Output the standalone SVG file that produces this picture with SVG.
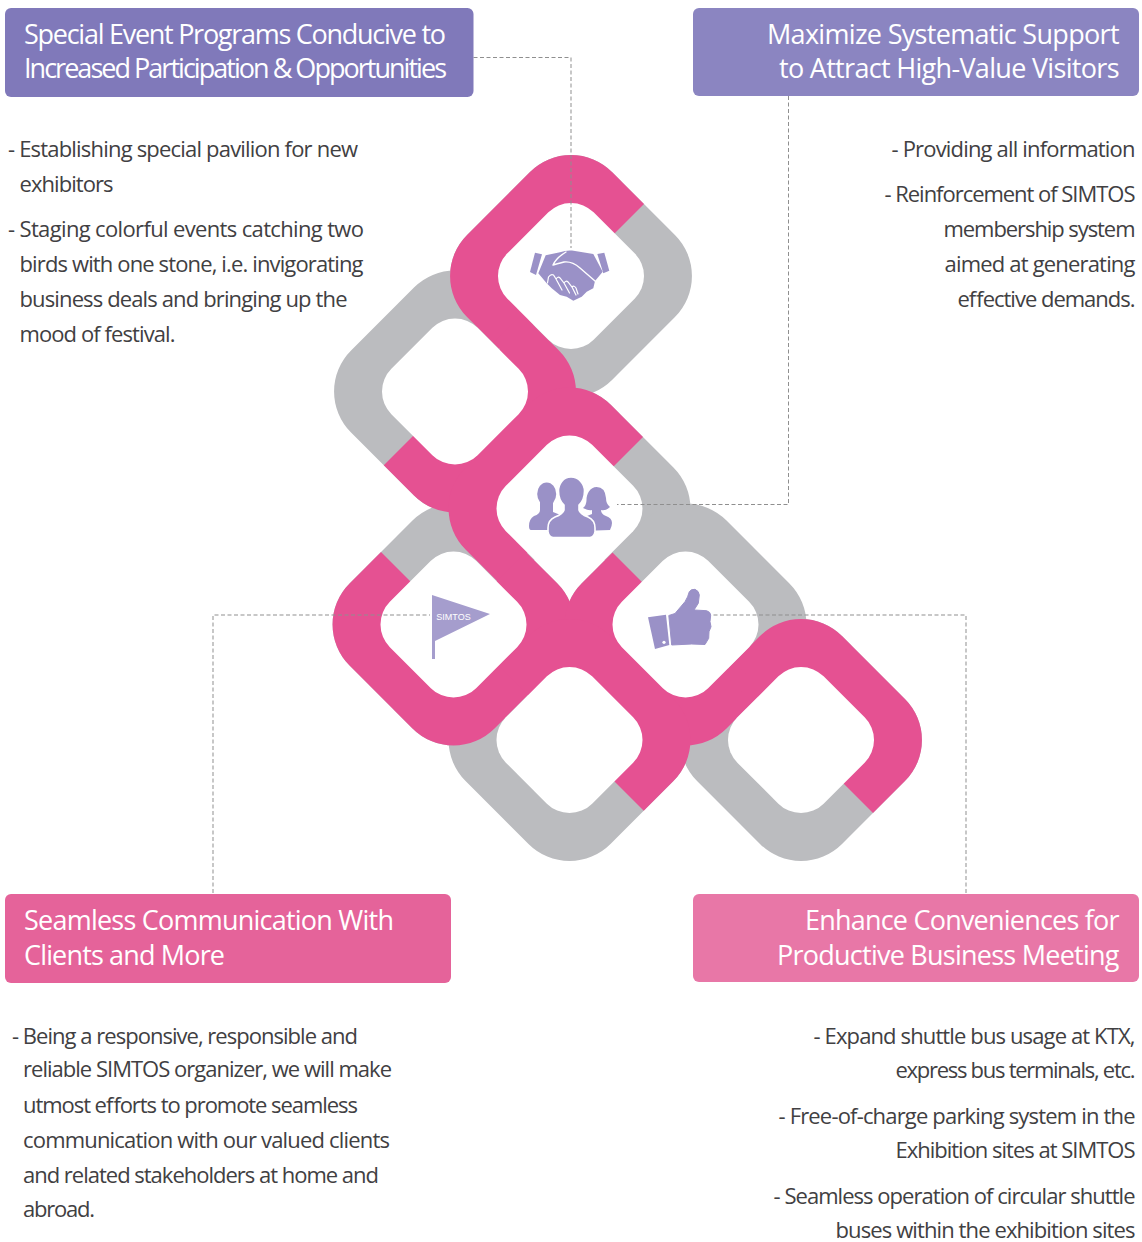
<svg xmlns="http://www.w3.org/2000/svg" xmlns:xlink="http://www.w3.org/1999/xlink" width="1142" height="1242" viewBox="0 0 1142 1242">
<style>
.h{font-family:"Open Sans","Noto Sans","Liberation Sans",sans-serif;font-size:27px;font-weight:400;fill:#fff}
.b{font-family:"Open Sans","Noto Sans","Liberation Sans",sans-serif;font-size:22px;fill:#414042}
.g{fill:#bbbcbf}.p{fill:#e55192}.w{fill:#fff}
.i{fill:#9a91c7}
.d{fill:none;stroke:#8f8f8f;stroke-width:1;stroke-dasharray:4 2.5}
</style>
<defs>
<rect id="o" x="-102.5" y="-102.5" width="205" height="205" rx="58" transform="rotate(45)"/>
<rect id="n" x="-61" y="-61" width="122" height="122" rx="32" transform="rotate(45)"/>
<clipPath id="cTop"><polygon points="0,848 848,0 0,0"/></clipPath>
<clipPath id="cLeft"><polygon points="849,0 1142,0 1142,1242 0,1242 0,849"/></clipPath>
<clipPath id="cCenter"><polygon points="0,1080 1080,0 0,0"/></clipPath>
<clipPath id="cCenterGrey"><rect x="0" y="0" width="1142" height="560"/></clipPath>
<clipPath id="cFlag"><polygon points="0,171 1071,1242 0,1242"/><polygon points="1078,0 1142,0 1142,1242 0,1242 0,1078"/></clipPath>
<clipPath id="cBottom"><polygon points="0,0 1142,0 1142,1242 1075,1242 0,167"/></clipPath>
<clipPath id="cThumb"><polygon points="60,0 0,0 0,1242 1142,1242 1142,1082"/></clipPath>
<clipPath id="cRight"><polygon points="60,0 1142,0 1142,1082"/></clipPath>
</defs>

<g id="rings-grey" class="g">
<use xlink:href="#o" href="#o" x="571" y="276"/>
<use xlink:href="#o" href="#o" x="455" y="391.5"/>
<g clip-path="url(#cCenterGrey)"><use xlink:href="#o" href="#o" x="569.5" y="508.5"/></g>
<use xlink:href="#o" href="#o" x="453.5" y="624.5"/>
<use xlink:href="#o" href="#o" x="685.5" y="624.5"/>
<use xlink:href="#o" href="#o" x="569.5" y="740"/>
<use xlink:href="#o" href="#o" x="801" y="740"/>
</g>
<g id="rings-pink" class="p">
<g clip-path="url(#cTop)"><use xlink:href="#o" href="#o" x="571" y="276"/></g>
<g clip-path="url(#cLeft)"><use xlink:href="#o" href="#o" x="455" y="391.5"/></g>
<g clip-path="url(#cCenter)"><use xlink:href="#o" href="#o" x="569.5" y="508.5"/></g>
<g clip-path="url(#cFlag)"><use xlink:href="#o" href="#o" x="453.5" y="624.5"/></g>
<g clip-path="url(#cThumb)"><use xlink:href="#o" href="#o" x="685.5" y="624.5"/></g>
<g clip-path="url(#cBottom)"><use xlink:href="#o" href="#o" x="569.5" y="740"/></g>
<g clip-path="url(#cRight)"><use xlink:href="#o" href="#o" x="801" y="740"/></g>
<path d="M508 328L519 339M738 688L749 677" fill="none" stroke="#e55192" stroke-width="41"/>
</g>
<g id="rings-inner" class="w">
<use xlink:href="#n" href="#n" x="571" y="276"/>
<use xlink:href="#n" href="#n" x="455" y="391.5"/>
<use xlink:href="#n" href="#n" x="569.5" y="508.5"/>
<use xlink:href="#n" href="#n" x="453.5" y="624.5"/>
<use xlink:href="#n" href="#n" x="685.5" y="624.5"/>
<use xlink:href="#n" href="#n" x="569.5" y="740"/>
<use xlink:href="#n" href="#n" x="801" y="740"/>
</g>

<g id="connectors">
<path class="d" d="M473.5 57.5H571V248"/>
<path class="d" d="M788.5 96V504.5H617"/>
<path class="d" d="M213 893V615H430"/>
<path class="d" d="M966 893V615H712"/>
</g>

<g id="icon-handshake">
<polygon class="i" points="535,252.7 542,254.3 536,275 530,272"/>
<polygon class="i" points="597.3,254 604.3,252.7 609.3,270.7 603.3,273.3"/>
<path class="i" d="M545.7 255.3L560 252.3Q566 250 572 250.5L593.3 254L602.7 271.7L595 281L593.3 288.3L586.7 291.7L581.7 296.7L573.3 300.7L566.7 296.7L560 295L551.7 288.3L546.7 283.3L538.3 273.3Z"/>
<path fill="none" stroke="#fff" stroke-width="1.4" stroke-linecap="round" stroke-linejoin="round" d="M595 281L580 268Q572 261 564 262Q556 264 553 265Q556 258 566 252"/>
<path fill="none" stroke="#fff" stroke-width="1.2" stroke-linecap="round" d="M547.5 283L548.5 277Q551 273.5 553.5 275L556 279Q558 276 560 278L564 283Q566 280 568 282L572 287Q574 285 576 288L578 294M556 279L562 290M564 283L569.5 293M572 287L576 295"/>
</g>

<g id="icon-people">
<ellipse class="i" cx="546.7" cy="494" rx="9.5" ry="11.5"/>
<path class="i" d="M540 501L540 510Q540 514 534 516Q529 519 529 526Q529 530 531 530L563 530L563 516L553 512Q553 508 553 501Z"/>
<path class="i" d="M596.7 487C590 487 586.5 494 586.5 500Q586.5 505 583 508Q589 511 592 510L592 514L582 518L582 531L610 530Q612 526 612 523Q612 518 606 516Q601 514 601 510Q606 511 610 507Q606 504 606 498Q605 487 596.7 487Z"/>
<path class="i" stroke="#fff" stroke-width="1.6" d="M571 477C563 477 558.5 484 558.5 491Q558.5 500 564 505L564 510Q563 514 555 517Q548 520 548 528L548 532Q549 537 553 537.5L590 537.5Q594 537 595 532L595 528Q595 520 588 517Q580 514 579 510L579 505Q584.5 500 584.5 491C584.5 484 579 477 571 477Z"/>
</g>

<g id="icon-flag">
<path fill="#a59dcd" d="M432 595L490 614L435 641V659H432Z"/>
<text x="453.5" y="620" text-anchor="middle" font-family="'Liberation Sans',Arial,sans-serif" font-size="9" fill="#fff">SIMTOS</text>
</g>

<g id="icon-thumb">
<polygon class="i" points="648,617.3 666,614.7 669.3,645 655,649"/>
<circle cx="664" cy="642.3" r="1.6" fill="#fff"/>
<path class="i" stroke="#9a91c7" stroke-width="1" stroke-linejoin="round" d="M668.8 615.5L675 613.5L685 601.7Q688 597 689.3 591.7Q691 589 695 589.3Q699 591 699.3 595L698.3 603.3L694 610L706.7 610.7Q710.5 612 710.7 615L710 621.7L711 626.7L709 631.7L708.7 638.3L705 644.5L691.7 644L671.7 645Z"/>
</g>

<g id="node-events">
<rect x="5" y="8" width="468.5" height="89" rx="6" fill="#8079ba"/>
<text class="h" x="24" y="44" textLength="422">Special Event Programs Conducive to</text>
<text class="h" x="24" y="78" textLength="423">Increased Participation &amp; Opportunities</text>
<text class="b" x="8" y="157" textLength="350">- Establishing special pavilion for new</text>
<text class="b" x="19.5" y="192" textLength="94">exhibitors</text>
<text class="b" x="8" y="237" textLength="356">- Staging colorful events catching two</text>
<text class="b" x="19.5" y="272" textLength="344">birds with one stone, i.e. invigorating</text>
<text class="b" x="19.5" y="307" textLength="328">business deals and bringing up the</text>
<text class="b" x="19.5" y="342" textLength="156">mood of festival.</text>
</g>

<g id="node-support">
<rect x="693" y="8" width="446" height="88" rx="6" fill="#8b85c1"/>
<text class="h" x="767" y="44" textLength="352.5">Maximize Systematic Support</text>
<text class="h" x="779" y="78" textLength="340.5">to Attract High-Value Visitors</text>
<text class="b" x="891.5" y="157" textLength="244">- Providing all information</text>
<text class="b" x="884.5" y="202" textLength="251">- Reinforcement of SIMTOS</text>
<text class="b" x="943.5" y="237" textLength="192">membership system</text>
<text class="b" x="944.5" y="272" textLength="191">aimed at generating</text>
<text class="b" x="957.5" y="307" textLength="178">effective demands.</text>
</g>

<g id="node-communication">
<rect x="5" y="894" width="446" height="89" rx="6" fill="#e5639a"/>
<text class="h" x="24" y="930" textLength="370">Seamless Communication With</text>
<text class="h" x="24" y="965" textLength="201">Clients and More</text>
<text class="b" x="12" y="1044" textLength="346">- Being a responsive, responsible and</text>
<text class="b" x="23" y="1077" textLength="369">reliable SIMTOS organizer, we will make</text>
<text class="b" x="23" y="1113" textLength="335">utmost efforts to promote seamless</text>
<text class="b" x="23" y="1148" textLength="367">communication with our valued clients</text>
<text class="b" x="23" y="1183" textLength="356">and related stakeholders at home and</text>
<text class="b" x="23" y="1217" textLength="72">abroad.</text>
</g>

<g id="node-conveniences">
<rect x="693" y="894" width="446" height="88" rx="6" fill="#e877a7"/>
<text class="h" x="805" y="930" textLength="314.5">Enhance Conveniences for</text>
<text class="h" x="777" y="965" textLength="342.5">Productive Business Meeting</text>
<text class="b" x="813.5" y="1044" textLength="322">- Expand shuttle bus usage at KTX,</text>
<text class="b" x="895.5" y="1078" textLength="240">express bus terminals, etc.</text>
<text class="b" x="778.5" y="1124" textLength="357">- Free-of-charge parking system in the</text>
<text class="b" x="895.5" y="1158" textLength="240">Exhibition sites at SIMTOS</text>
<text class="b" x="773.5" y="1203.5" textLength="362">- Seamless operation of circular shuttle</text>
<text class="b" x="835.5" y="1237.5" textLength="300">buses within the exhibition sites</text>
</g>
</svg>
